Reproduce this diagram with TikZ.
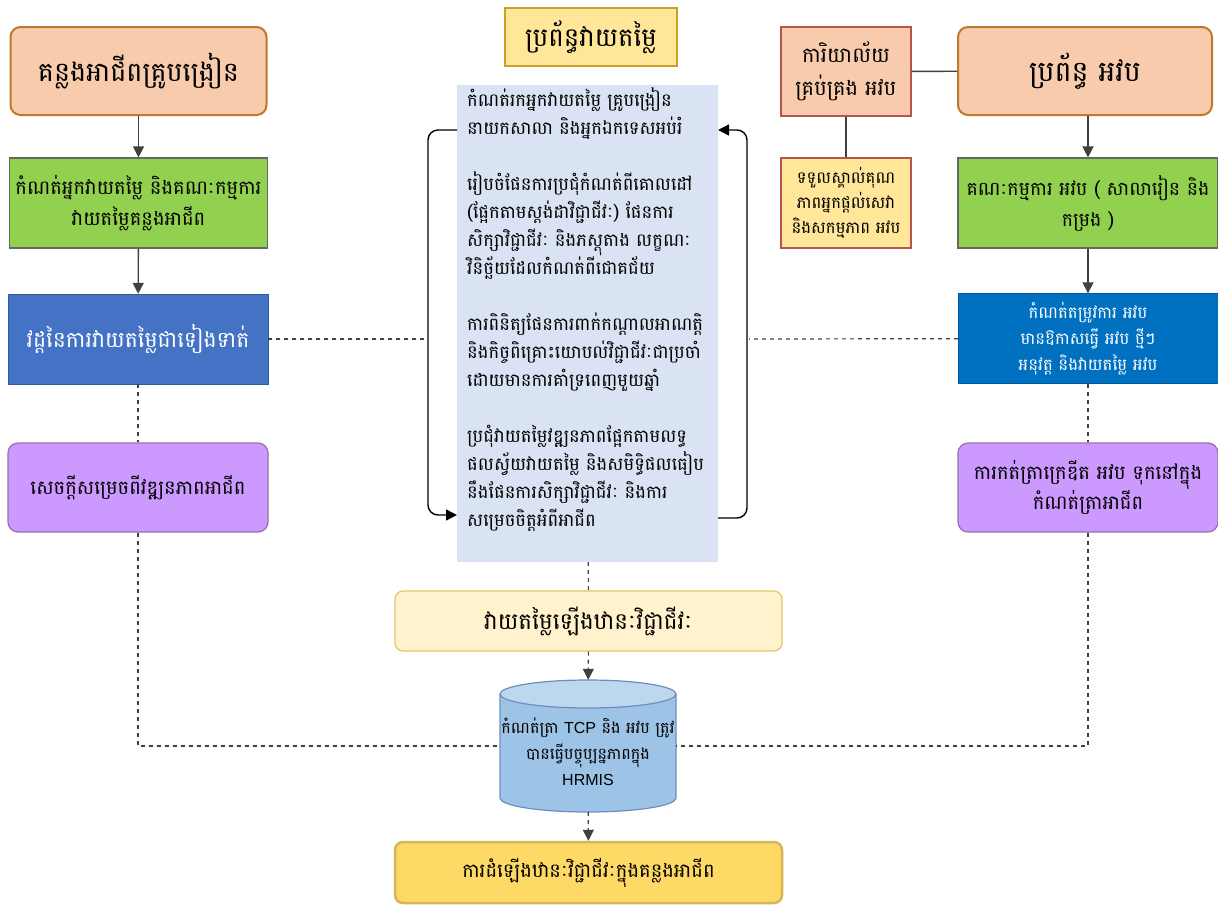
\documentclass[tikz,border=0pt]{standalone}
\usepackage{fontspec}
\setmainfont[Script=Khmer]{Battambang}
\newfontfamily\latfont{Liberation Sans}
\usetikzlibrary{arrows.meta}

\definecolor{peach}{HTML}{F8CBAD}
\definecolor{peachline}{HTML}{C0782A}
\definecolor{redline}{HTML}{B85450}
\definecolor{greenfill}{HTML}{92D050}
\definecolor{bluel}{HTML}{4472C4}
\definecolor{bluer}{HTML}{0070C0}
\definecolor{purplefill}{HTML}{CC99FF}
\definecolor{purpleline}{HTML}{9673A6}
\definecolor{goldfill}{HTML}{FFE699}
\definecolor{goldline}{HTML}{C9A227}
\definecolor{palegold}{HTML}{FFF2CC}
\definecolor{palegoldline}{HTML}{E3C66A}
\definecolor{deepgold}{HTML}{FFD966}
\definecolor{deepgoldline}{HTML}{D6B656}
\definecolor{cyclefill}{HTML}{DAE3F3}
\definecolor{dbbody}{HTML}{9DC3E6}
\definecolor{dbtop}{HTML}{BDD7EE}
\definecolor{dbline}{HTML}{6C8EBF}
\definecolor{linegray}{HTML}{404040}

\tikzset{
  basebox/.style={align=center, inner sep=2pt},
  headbox/.style={basebox, rounded corners=10pt, fill=peach, draw=peachline,
    line width=2pt, minimum width=256pt, minimum height=88pt,
    font=\fontsize{27}{32}\selectfont},
  greenbox/.style={basebox, fill=greenfill, draw=linegray!80, line width=1.2pt,
    minimum width=258pt, minimum height=90pt, font=\fontsize{19.5}{31}\selectfont},
  bluebox/.style={basebox, draw=#1!80!black, fill=#1, text=white,
    minimum width=260pt, minimum height=90pt},
  purplebox/.style={basebox, rounded corners=10pt, fill=purplefill, draw=purpleline,
    line width=1.2pt, minimum width=260pt, minimum height=89pt,
    font=\fontsize{19.5}{30}\selectfont},
  smallbox/.style={basebox, draw=redline, line width=1.2pt,
    minimum width=130pt, minimum height=89pt},
  levelbox/.style={basebox, rounded corners=8pt, minimum width=387pt},
  arrowline/.style={draw=linegray, line width=1.4pt, -{Triangle[length=11pt,width=11pt]}},
  dashline/.style={draw=linegray, line width=1.2pt, dash pattern=on 4pt off 4pt},
  dasharrow/.style={dashline, -{Triangle[length=11pt,width=11pt]}},
  loopline/.style={draw=black, line width=1.4pt, rounded corners=10pt,
    -{Triangle[length=11pt,width=11pt]}},
}

\begin{document}
\begin{tikzpicture}[x=1pt, y=-1pt]
  \useasboundingbox[fill=white] (0,0) rectangle (1218,906);

  % linke Spalte
  \node[headbox] (career) at (138.5,71) {គន្លងអាជីពគ្រូបង្រៀន};
  \node[greenbox] (assessors) at (138.5,203) {កំណត់អ្នកវាយតម្លៃ និងគណៈកម្មការ\\វាយតម្លៃគន្លងអាជីព};
  \node[bluebox=bluel, font=\fontsize{22}{30}\selectfont] (cycle) at (138,339) {វដ្តនៃការវាយតម្លៃជាទៀងទាត់};
  \node[purplebox] (decision) at (138,487.5) {សេចក្តីសម្រេចពីវឌ្ឍនភាពអាជីព};

  % mittlere Spalte
  \node[basebox, fill=goldfill, draw=goldline, line width=1.5pt, minimum width=172pt,
    minimum height=58pt, font=\fontsize{26}{30}\selectfont] (system) at (591,37) {ប្រព័ន្ធវាយតម្លៃ};
  \node[fill=cyclefill, minimum width=261pt, minimum height=477pt, inner sep=0pt] (steps) at (587.5,323.5) {};
  \node[anchor=north west, align=left, inner sep=0pt, font=\fontsize{18}{28}\selectfont] (stepstext) at (467,87) {%
    កំណត់រកអ្នកវាយតម្លៃ គ្រូបង្រៀន\\
    នាយកសាលា និងអ្នកឯកទេសអប់រំ\\[28pt]
    រៀបចំផែនការប្រជុំកំណត់ពីគោលដៅ\\
    (ផ្អែកតាមស្តង់ដាវិជ្ជាជីវៈ) ផែនការ\\
    សិក្សាវិជ្ជាជីវៈ និងភស្តុតាង លក្ខណៈ\\
    វិនិច្ឆ័យដែលកំណត់ពីជោគជ័យ\\[28pt]
    ការពិនិត្យផែនការពាក់កណ្តាលអាណត្តិ\\
    និងកិច្ចពិគ្រោះយោបល់វិជ្ជាជីវៈជាប្រចាំ\\
    ដោយមានការគាំទ្រពេញមួយឆ្នាំ\\[28pt]
    ប្រជុំវាយតម្លៃវឌ្ឍនភាពផ្អែកតាមលទ្ធ\\
    ផលស្វ័យវាយតម្លៃ និងសមិទ្ធិផលធៀប\\
    នឹងផែនការសិក្សាវិជ្ជាជីវៈ និងការ\\
    សម្រេចចិត្តអំពីអាជីព};
  \node[levelbox, fill=palegold, draw=palegoldline, line width=1.2pt, minimum height=60pt,
    font=\fontsize{23}{28}\selectfont] (review) at (588.5,621) {វាយតម្លៃឡើងឋានៈវិជ្ជាជីវៈ};

  % Datenbank
  \node[minimum width=176pt, minimum height=132pt, inner sep=0pt] (db) at (588,746) {};
  \fill[dbbody] (500,694) -- (500,798) arc[start angle=180, end angle=360, x radius=88pt, y radius=14pt]
    -- (676,694) arc[start angle=0, end angle=180, x radius=88pt, y radius=14pt] -- cycle;
  \draw[dbline, line width=1.2pt] (500,694) -- (500,798) arc[start angle=180, end angle=360, x radius=88pt, y radius=14pt]
    -- (676,694);
  \filldraw[fill=dbtop, draw=dbline, line width=1.2pt] (588,694) ellipse[x radius=88pt, y radius=14pt];
  \node[align=center, inner sep=0pt, font=\fontsize{16}{26}\selectfont] (dbtext) at (588,752)
    {កំណត់ត្រា {\latfont TCP} និង អវប ត្រូវ\\បានធ្វើបច្ចុប្បន្នភាពក្នុង\\{\latfont HRMIS}};

  \node[levelbox, fill=deepgold, draw=deepgoldline, line width=2.5pt, minimum height=61pt,
    font=\fontsize{19.5}{26}\selectfont] (promotion) at (588.5,872.5) {ការដំឡើងឋានៈវិជ្ជាជីវៈក្នុងគន្លងអាជីព};

  % rechte Spalte
  \node[smallbox, fill=peach, font=\fontsize{21}{33}\selectfont] (office) at (846,71.5) {ការិយាល័យ\\គ្រប់គ្រង អវប};
  \node[headbox, minimum width=254pt, font=\fontsize{28.5}{32}\selectfont] (cpd) at (1085,71) {ប្រព័ន្ធ អវប};
  \node[smallbox, fill=goldfill, minimum height=90pt, font=\fontsize{16.5}{25}\selectfont] (recognise) at (846,203)
    {ទទួលស្គាល់គុណ\\ភាពអ្នកផ្តល់សេវា\\និងសកម្មភាព អវប};
  \node[greenbox, minimum width=260pt, font=\fontsize{19}{31}\selectfont] (committee) at (1088,203) {គណៈកម្មការ អវប ( សាលារៀន និង\\កម្រង )};
  \node[bluebox=bluer, font=\fontsize{16.5}{26}\selectfont] (needs) at (1088,338.5)
    {កំណត់តម្រូវការ អវប\\មានឱកាសធ្វើ អវប ថ្មីៗ\\អនុវត្ត និងវាយតម្លៃ អវប};
  \node[purplebox] (credits) at (1088,487.5) {ការកត់ត្រាក្រេឌីត អវប ទុកនៅក្នុង\\កំណត់ត្រាអាជីព};

  % Pfeile
  \draw[arrowline] (career) -- (assessors);
  \draw[arrowline] (assessors) -- (cycle);
  \draw[arrowline] (cpd.south -| committee.north) -- (committee.north);
  \draw[arrowline] (committee) -- (needs);
  \draw[draw=linegray, line width=1.4pt] (office) -- (cpd);
  \draw[draw=linegray, line width=1.4pt] (office) -- (recognise);

  % Kreislauf
  \coordinate (looptl) at (457,130);
  \coordinate (loopbl) at (457,515);
  \coordinate (looptr) at (718,130);
  \coordinate (loopbr) at (718,518);
  \draw[loopline] (looptl) -- ++(-29,0) |- (loopbl);
  \draw[loopline] (loopbr) -- ++(29,0) |- (looptr);

  % gestrichelte Linien
  \coordinate (leftjoin) at (428,339);
  \coordinate (rightjoin) at (749,339);
  \draw[dashline] (cycle) -- (leftjoin);
  \draw[dashline] (needs) -- (rightjoin);
  \draw[dashline] (cycle) -- (decision);
  \draw[dashline] (needs) -- (credits);
  \draw[dashline] (decision.south) |- (db.west);
  \draw[dashline] (credits.south) |- (db.east);
  \draw[dashline] (steps) -- (review);
  \draw[dasharrow] (review) -- (db);
  \draw[dasharrow] (db) -- (promotion);
\end{tikzpicture}
\end{document}
